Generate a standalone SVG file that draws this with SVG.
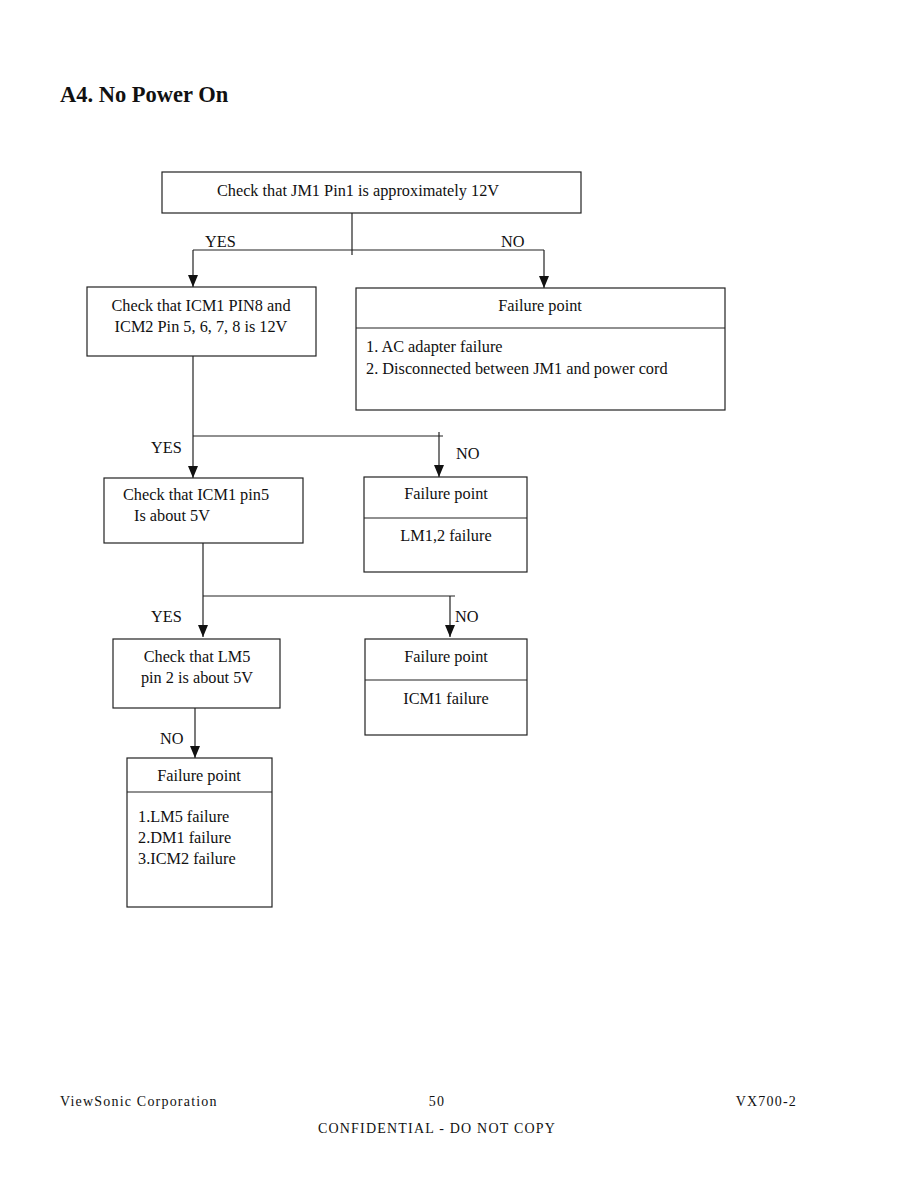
<svg xmlns="http://www.w3.org/2000/svg" width="918" height="1188" viewBox="0 0 918 1188">
<style>
text{font-family:"Liberation Serif","Times New Roman",serif;fill:#111}
.t{font-size:16.3px}
.c{text-anchor:middle}
.box{fill:#fff;stroke:#222;stroke-width:1.2}
.ln{fill:none;stroke:#222;stroke-width:1.2}
.f{font-size:14px;letter-spacing:1.2px}
</style>
<defs>
<marker id="ah" markerWidth="12" markerHeight="10" refX="12" refY="5" orient="auto" markerUnits="userSpaceOnUse" viewBox="0 0 12 10">
<path d="M0,0 L12,5 L0,10 Z" fill="#111"/>
</marker>
</defs>
<rect width="918" height="1188" fill="#fff"/>
<text x="60" y="102" font-size="22.5" font-weight="bold">A4. No Power On</text>

<g id="connectors">
<path class="ln" d="M352,213 V255"/>
<path class="ln" d="M193,250 H544"/>
<path class="ln" d="M193,250 V287" marker-end="url(#ah)"/>
<path class="ln" d="M544,250 V288" marker-end="url(#ah)"/>
<path class="ln" d="M193,356 V478" marker-end="url(#ah)"/>
<path class="ln" d="M193,436 H443"/>
<path class="ln" d="M439,432 V477" marker-end="url(#ah)"/>
<path class="ln" d="M203,543 V637" marker-end="url(#ah)"/>
<path class="ln" d="M203,596 H455"/>
<path class="ln" d="M450,596 V637" marker-end="url(#ah)"/>
<path class="ln" d="M195,708 V758" marker-end="url(#ah)"/>
<text class="t" x="205" y="247">YES</text>
<text class="t" x="501" y="247">NO</text>
<text class="t" x="151" y="453">YES</text>
<text class="t" x="456" y="459">NO</text>
<text class="t" x="151" y="622">YES</text>
<text class="t" x="455" y="622">NO</text>
<text class="t" x="160" y="744">NO</text>
</g>

<g id="n1">
<rect class="box" x="162" y="172" width="419" height="41"/>
<text class="t c" x="358" y="196">Check that JM1 Pin1 is approximately 12V</text>
</g>
<g id="n2">
<rect class="box" x="87" y="287" width="229" height="69"/>
<text class="t c" x="201" y="311">Check that ICM1 PIN8 and</text>
<text class="t c" x="201" y="332">ICM2 Pin 5, 6, 7, 8 is 12V</text>
</g>
<g id="n3">
<rect class="box" x="356" y="288" width="369" height="122"/>
<line class="ln" x1="356" y1="328" x2="725" y2="328"/>
<text class="t c" x="540" y="311">Failure point</text>
<text class="t" x="366" y="352">1. AC adapter failure</text>
<text class="t" x="366" y="374">2. Disconnected between JM1 and power cord</text>
</g>
<g id="n4">
<rect class="box" x="104" y="478" width="199" height="65"/>
<text class="t" x="123" y="500">Check that ICM1 pin5</text>
<text class="t" x="134" y="521">Is about 5V</text>
</g>
<g id="n5">
<rect class="box" x="364" y="477" width="163" height="95"/>
<line class="ln" x1="364" y1="518" x2="527" y2="518"/>
<text class="t c" x="446" y="499">Failure point</text>
<text class="t c" x="446" y="541">LM1,2 failure</text>
</g>
<g id="n6">
<rect class="box" x="113" y="639" width="167" height="69"/>
<text class="t c" x="197" y="662">Check that LM5</text>
<text class="t c" x="197" y="683">pin 2 is about 5V</text>
</g>
<g id="n7">
<rect class="box" x="365" y="639" width="162" height="96"/>
<line class="ln" x1="365" y1="680" x2="527" y2="680"/>
<text class="t c" x="446" y="662">Failure point</text>
<text class="t c" x="446" y="704">ICM1 failure</text>
</g>
<g id="n8">
<rect class="box" x="127" y="758" width="145" height="149"/>
<line class="ln" x1="127" y1="792" x2="272" y2="792"/>
<text class="t c" x="199" y="781">Failure point</text>
<text class="t" x="138" y="822">1.LM5 failure</text>
<text class="t" x="138" y="843">2.DM1 failure</text>
<text class="t" x="138" y="864">3.ICM2 failure</text>
</g>

<text class="f" x="60" y="1106">ViewSonic Corporation</text>
<text class="f c" x="437" y="1106">50</text>
<text class="f" x="797" y="1106" text-anchor="end">VX700-2</text>
<text class="f c" x="437" y="1133">CONFIDENTIAL - DO NOT COPY</text>
</svg>
